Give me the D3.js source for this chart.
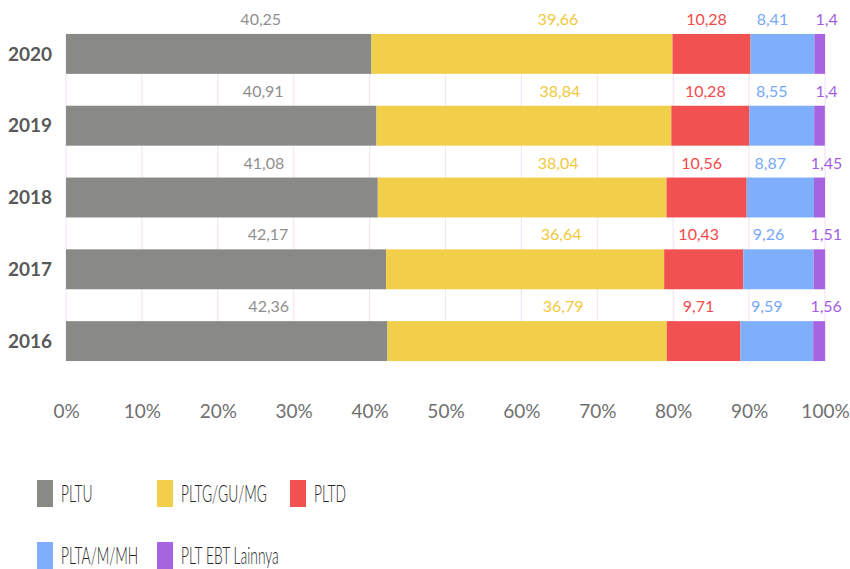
<!DOCTYPE html>
<html>
<head>
<meta charset="utf-8">
<script src="https://cdn.jsdelivr.net/npm/d3@7"></script>
<style>
  body { margin: 0; background: #fff; }
  svg { display: block; }
</style>
</head>
<body>
<div id="chart"></div>
<script>
// years, top to bottom
var years = ["2020", "2019", "2018", "2017", "2016"];
var seriesNames = ["PLTU", "PLTG/GU/MG", "PLTD", "PLTA/M/MH", "PLT EBT Lainnya"];
// shares per year (percent), same order as years
var pltu  = [40.25, 40.91, 41.08, 42.17, 42.36];
var pltg  = [39.66, 38.84, 38.04, 36.64, 36.79];
var pltd  = [10.28, 10.28, 10.56, 10.43, 9.71];
var plta  = [8.41, 8.55, 8.87, 9.26, 9.59];
var ebt   = [1.4, 1.4, 1.45, 1.51, 1.56];
var tickValues = [0, 10, 20, 30, 40, 50, 60, 70, 80, 90, 100];

var seriesValues = [pltu, pltg, pltd, plta, ebt];
var colors = ["#898a85", "#f2cf4a", "#f25152", "#7faefa", "#a764e0"];
var labelColors = ["#8f8f8f", "#f0c93c", "#f24a4b", "#76a8fa", "#a35ee0"];
var labelShift = [42, 36, -5, -10, 7];   // nudges the value labels like the original layout

var width = 850, height = 569;

var svg = d3.select("#chart").append("svg")
    .attr("width", width)
    .attr("height", height)
    .style("font-family", "Lato, 'Open Sans', sans-serif");

var x = d3.scaleLinear().domain([0, 100]).range([66, 825]);
var y = d3.scaleBand().domain(years).range([18, 377])
    .paddingInner(0.444).paddingOuter(0.222);

// build rows for the stack
var rows = years.map(function(yr, i) {
    var r = { year: yr };
    seriesNames.forEach(function(s, k) { r[s] = seriesValues[k][i]; });
    return r;
});
var stacked = d3.stack().keys(seriesNames)(rows);

// vertical gridlines
svg.append("g").selectAll("line")
    .data(tickValues)
    .enter().append("line")
        .attr("x1", function(d) { return x(d); })
        .attr("x2", function(d) { return x(d); })
        .attr("y1", y(years[0]))
        .attr("y2", y(years[years.length - 1]) + y.bandwidth())
        .attr("stroke", "#f3e6f3")
        .attr("stroke-width", 1.2);

// bars
var layers = svg.append("g").selectAll("g")
    .data(stacked)
    .enter().append("g")
        .attr("fill", function(d, i) { return colors[i]; });

layers.selectAll("rect")
    .data(function(d) { return d; })
    .enter().append("rect")
        .attr("x", function(d) { return x(d[0]); })
        .attr("y", function(d) { return y(d.data.year); })
        .attr("width", function(d) { return x(d[1]) - x(d[0]); })
        .attr("height", y.bandwidth());

// value labels above each segment
stacked.forEach(function(layer, k) {
    svg.append("g").selectAll("text")
        .data(layer)
        .enter().append("text")
            .attr("x", function(d) { return (x(d[0]) + x(d[1])) / 2 + labelShift[k]; })
            .attr("y", function(d) { return y(d.data.year) - 9; })
            .attr("text-anchor", "middle")
            .attr("fill", labelColors[k])
            .style("font-size", "16px")
            .style("font-weight", 400)
            .text(function(d) { return String(d.data[layer.key]).replace(".", ","); });
});

// year labels
svg.append("g").selectAll("text")
    .data(years)
    .enter().append("text")
        .attr("x", 52)
        .attr("y", function(d) { return y(d) + y.bandwidth() / 2; })
        .attr("dy", "0.35em")
        .attr("text-anchor", "end")
        .attr("fill", "#595959")
        .style("font-size", "19px")
        .style("font-weight", 700)
        .text(function(d) { return d; });

// x axis tick labels
var xAxis = d3.axisBottom(x)
    .tickValues(tickValues)
    .tickSize(0)
    .tickFormat(function(d) { return d + "%"; });

var axisG = svg.append("g")
    .attr("transform", "translate(0,401)")
    .call(xAxis);
axisG.select(".domain").remove();
axisG.selectAll("text")
    .attr("fill", "#707070")
    .style("font-family", "Lato, 'Open Sans', sans-serif")
    .style("font-size", "19px")
    .style("font-weight", 400);

// legend
var legendPos = [[37, 480], [157, 480], [290, 480], [37, 542], [157, 542]];
var legend = svg.append("g").selectAll("g")
    .data(seriesNames)
    .enter().append("g")
        .attr("transform", function(d, i) { return "translate(" + legendPos[i][0] + "," + legendPos[i][1] + ")"; });

legend.append("rect")
    .attr("width", 16)
    .attr("height", 27)
    .attr("fill", function(d, i) { return colors[i]; });

legend.append("text")
    .attr("transform", "translate(24,22) scale(0.6,1)")
    .attr("fill", "#262626")
    .style("font-size", "23px")
    .style("font-weight", 300)
    .text(function(d) { return d; });
</script>
</body>
</html>
